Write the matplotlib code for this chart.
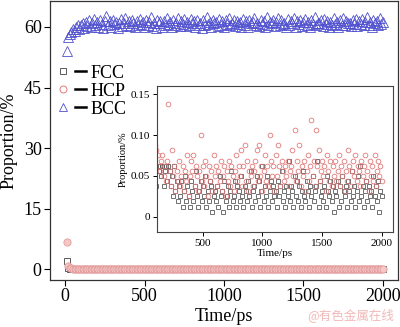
import matplotlib
matplotlib.use("Agg")
import matplotlib.pyplot as plt
import numpy as np
from matplotlib.lines import Line2D
from matplotlib.legend_handler import HandlerTuple

plt.rcParams['font.family'] = ['Liberation Serif', 'DejaVu Serif']
plt.rcParams['mathtext.fontset'] = 'stix'

# sampling every 10 ps
time_ps = np.arange(10, 2001, 10)
n_atoms = 16000

bcc_pct = [
    54.0, 57.5, 58.2, 58.8, 59.5, 58.9, 59.9, 60.4, 59.6, 60.6,
    60.9, 59.7, 61.3, 60.2, 61.7, 60.1, 60.9, 61.9, 60.4, 61.2,
    60.0, 61.6, 60.7, 59.8, 61.4, 62.8, 60.5, 61.5, 59.9, 61.8,
    60.8, 61.3, 59.7, 61.0, 61.9, 60.3, 61.1, 62.2, 60.6, 61.4,
    60.2, 61.7, 60.9, 59.9, 61.5, 60.5, 62.0, 60.7, 61.3, 60.1,
    61.6, 60.4, 61.2, 62.4, 60.3, 61.0, 59.8, 61.8, 60.9, 61.4,
    60.0, 61.5, 60.6, 62.1, 60.8, 61.3, 59.9, 61.7, 60.5, 61.1,
    62.3, 60.2, 61.4, 60.7, 61.9, 60.3, 61.2, 60.6, 62.0, 60.9,
    61.5, 60.1, 61.8, 60.6, 61.1, 59.8, 61.6, 60.4, 62.5, 60.8,
    61.3, 60.0, 61.7, 60.9, 61.2, 60.3, 61.9, 60.5, 61.4, 59.9,
    61.6, 60.7, 62.2, 60.4, 61.0, 61.8, 60.2, 61.5, 60.8, 61.3,
    60.1, 62.0, 60.6, 61.4, 59.9, 61.7, 60.9, 61.2, 62.3, 60.5,
    61.1, 60.3, 61.8, 60.7, 61.5, 60.0, 62.4, 60.6, 61.3, 60.9,
    61.7, 60.2, 61.2, 62.1, 60.5, 61.6, 60.8, 61.0, 59.9, 61.9,
    60.4, 61.4, 60.9, 62.2, 60.1, 61.5, 60.7, 61.8, 60.3, 61.2,
    62.0, 60.6, 61.3, 60.0, 61.7, 60.8, 62.5, 60.4, 61.1, 60.9,
    61.6, 60.2, 61.9, 60.7, 61.4, 59.9, 61.2, 60.5, 62.1, 60.8,
    61.3, 60.1, 61.8, 60.6, 62.3, 60.4, 61.5, 60.9, 61.0, 60.3,
    61.7, 60.7, 62.0, 60.2, 61.4, 60.8, 61.9, 60.5, 61.2, 62.4,
    60.6, 61.3, 60.0, 61.8, 60.9, 61.5, 60.4, 62.1, 60.7, 61.2,
]

# atom counts per structure type
fcc_atoms = [
    352, 48, 26, 18, 14, 11, 9, 8, 7, 6,
    6, 10, 9, 10, 8, 10, 6, 9, 10, 7,
    10, 9, 6, 8, 4, 10, 5, 7, 3, 6,
    4, 7, 2, 5, 8, 3, 6, 4, 2, 7,
    5, 3, 6, 9, 4, 2, 5, 7, 3, 6,
    4, 8, 2, 5, 3, 7, 6, 1, 4, 5,
    3, 6, 2, 8, 4, 5, 1, 7, 3, 4,
    6, 2, 5, 9, 3, 4, 7, 2, 6, 5,
    3, 8, 4, 2, 6, 5, 3, 7, 4, 9,
    2, 5, 6, 3, 8, 4, 7, 2, 5, 10,
    3, 6, 4, 8, 2, 5, 7, 3, 6, 4,
    5, 2, 7, 4, 6, 9, 3, 5, 2, 6,
    4, 11, 3, 6, 5, 2, 8, 4, 7, 3,
    6, 2, 5, 9, 4, 3, 7, 5, 2, 6,
    4, 8, 3, 5, 6, 11, 2, 7, 4, 5,
    3, 6, 2, 8, 5, 4, 7, 3, 6, 1,
    5, 4, 7, 2, 6, 3, 8, 5, 4, 6,
    2, 7, 5, 3, 9, 4, 6, 2, 5, 8,
    3, 10, 4, 6, 2, 5, 7, 3, 6, 4,
    5, 2, 8, 4, 6, 3, 7, 1, 5, 4,
]

hcp_atoms = [
    1088, 120, 70, 45, 32, 26, 21, 18, 16, 14,
    13, 12, 10, 9, 11, 12, 8, 10, 7, 11,
    22, 9, 6, 13, 8, 10, 5, 9, 7, 11,
    6, 8, 10, 5, 9, 7, 12, 4, 8, 11,
    9, 12, 6, 10, 8, 5, 9, 16, 7, 10,
    6, 11, 8, 4, 10, 7, 9, 5, 12, 8,
    10, 6, 9, 7, 11, 5, 8, 10, 4, 9,
    7, 11, 6, 10, 8, 5, 9, 12, 7, 10,
    8, 13, 6, 10, 14, 7, 11, 5, 9, 8,
    10, 6, 9, 11, 13, 7, 14, 8, 10, 5,
    9, 12, 7, 10, 6, 16, 11, 8, 10, 5,
    12, 8, 14, 10, 6, 11, 9, 7, 10, 8,
    11, 6, 9, 10, 13, 8, 17, 7, 11, 9,
    14, 6, 10, 8, 11, 5, 9, 12, 7, 10,
    19, 8, 11, 6, 17, 10, 13, 7, 9, 11,
    8, 10, 5, 12, 9, 7, 11, 6, 10, 8,
    11, 7, 9, 12, 6, 10, 8, 11, 5, 9,
    7, 13, 10, 6, 9, 11, 8, 12, 7, 10,
    9, 6, 11, 8, 10, 12, 7, 9, 5, 11,
    8, 10, 7, 12, 6, 9, 11, 8, 10, 7,
]

fcc_pct = np.array(fcc_atoms) / n_atoms * 100
hcp_pct = np.array(hcp_atoms) / n_atoms * 100

c_fcc = '#5a5a5a'
c_hcp = '#e07a7a'
c_bcc = '#4f4fcf'

fig = plt.figure(figsize=(4.0, 3.27), dpi=100)
ax = fig.add_axes([0.125, 0.1437, 0.87, 0.853])

ax.plot(time_ps, fcc_pct, ls='none', marker='s', ms=5, mfc='none', mec=c_fcc, mew=0.7)
ax.plot(time_ps, hcp_pct, ls='none', marker='o', ms=5.2, mfc='#f5c8c8', mec='#e39a9a', mew=0.6)
ax.plot(time_ps, bcc_pct, ls='none', marker='^', ms=7, mfc='none', mec=c_bcc, mew=0.6)

ax.set_xlim(-95, 2095)
ax.set_ylim(-2.6, 66.4)
ax.set_xticks([0, 500, 1000, 1500, 2000])
ax.set_yticks([0, 15, 30, 45, 60])
ax.tick_params(direction='out', length=4, width=0.8, labelsize=13, pad=2)
ax.set_xlabel('Time/ps', fontsize=13, labelpad=2)
ax.set_ylabel('Proportion/%', fontsize=13, labelpad=4)
for s in ax.spines.values():
    s.set_linewidth(0.9)
    s.set_color('#333333')

dash = Line2D([], [], color='black', lw=1.8)
handles = [
    (Line2D([], [], ls='none', marker='s', ms=4.5, mfc='none', mec=c_fcc, mew=0.7), dash),
    (Line2D([], [], ls='none', marker='o', ms=5, mfc='none', mec=c_hcp, mew=0.7), dash),
    (Line2D([], [], ls='none', marker='^', ms=6, mfc='none', mec=c_bcc, mew=0.6), dash),
]
ax.legend(handles, ['FCC', 'HCP', 'BCC'], loc='upper left', bbox_to_anchor=(-0.025, 0.83),
          handler_map={tuple: HandlerTuple(ndivide=None, pad=0.3)},
          handlelength=1.6, handletextpad=0.25, labelspacing=0.05,
          frameon=False, fontsize=13)

# inset: zoom on the small FCC / HCP fractions
axin = fig.add_axes([0.3925, 0.2905, 0.59, 0.4465])
axin.plot(time_ps, fcc_pct, ls='none', marker='s', ms=3.2, mfc='none', mec=c_fcc, mew=0.6)
axin.plot(time_ps, hcp_pct, ls='none', marker='o', ms=3.4, mfc='none', mec=c_hcp, mew=0.6)
axin.set_xlim(115, 2095)
axin.set_ylim(-0.0187, 0.16)
axin.set_xticks([500, 1000, 1500, 2000])
axin.set_yticks([0, 0.05, 0.10, 0.15])
axin.set_yticklabels(['0', '0.05', '0.10', '0.15'])
axin.tick_params(direction='out', length=3, width=0.7, labelsize=8, pad=2)
axin.set_xlabel('Time/ps', fontsize=8, labelpad=1)
axin.set_ylabel('Proportion/%', fontsize=7.5, labelpad=2)
for s in axin.spines.values():
    s.set_linewidth(0.8)
    s.set_color('#444444')

fig.text(0.985, 0.015, '@有色金属在线', ha='right', va='bottom', fontsize=9,
         color='#f2b8b8', family=['Noto Sans CJK SC', 'DejaVu Sans'])

fig.savefig('out.png', dpi=100)
